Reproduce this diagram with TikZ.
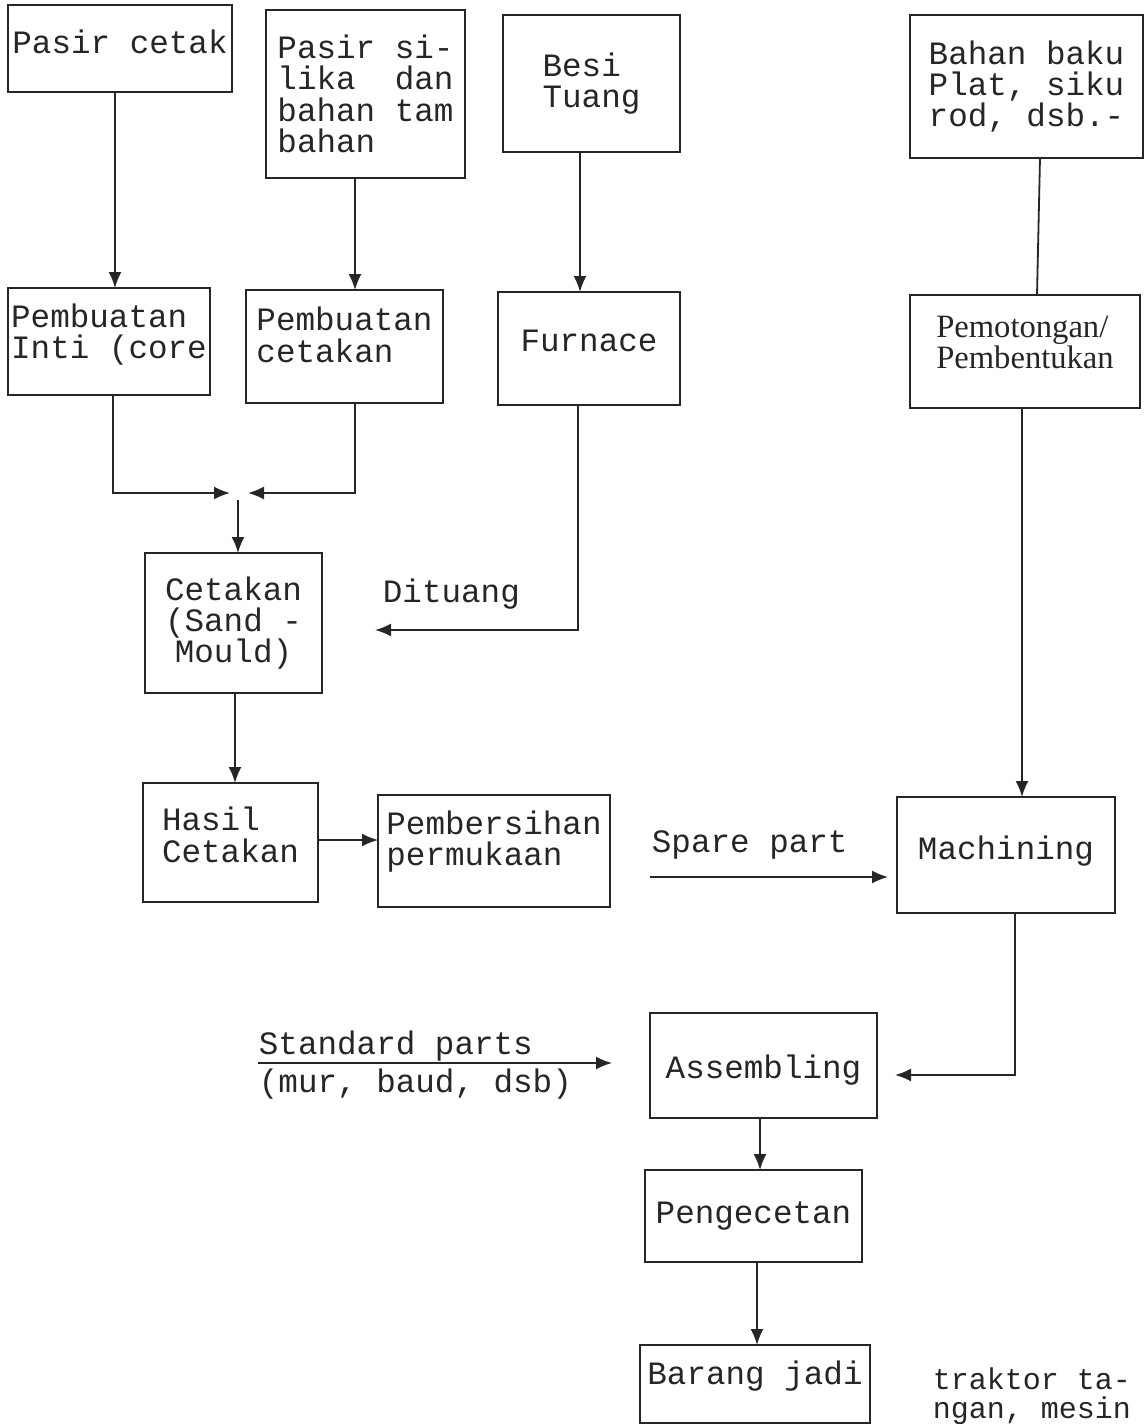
\documentclass[tikz,border=0pt]{standalone}
\usepackage{fontspec}
\setmainfont{Liberation Mono}
\newfontfamily\propfont{Liberation Serif}
\usetikzlibrary{
  arrows.meta,
  positioning,
}
\tikzset{
  >={Latex[length=8pt,width=6.5pt]},
  box/.style={draw, rectangle, align=left, inner sep=1pt, outer sep=0pt},
  lbl/.style={inner sep=0pt, align=left},
}

\begin{document}
\begin{tikzpicture}[node distance=5mm and 0mm, line width=0.9pt, color=black!85,
    font=\fontsize{16.3pt}{15.7pt}\selectfont]
        \useasboundingbox (0,0) rectangle (572.5pt,-712pt);

        \node[box, minimum width=112pt, minimum height=43.5pt, text depth=7pt]    (pasir) at (60pt,-24.25pt)    {Pasir cetak};
        \node[box, minimum width=99.5pt, minimum height=84pt, yshift=-22.75pt]    (silika) [right=17pt of pasir]    {Pasir si-\\lika\ \ dan\\bahan tam\\bahan};
        \node[box, minimum width=88.5pt, minimum height=68.5pt, yshift=5.25pt]    (besi) [right=19pt of silika]    {Besi\\Tuang};
        \node[box, minimum width=116.5pt, minimum height=71.5pt, yshift=-1.5pt]    (baku) [right=115pt of besi]    {Bahan baku\\Plat, siku\\rod, dsb.-};
        \node[box, minimum width=101pt, minimum height=53.5pt, xshift=-5.5pt, text depth=10.5pt]    (inti) [below=98pt of pasir]    {Pembuatan\\Inti (core};
        \node[box, minimum width=98.5pt, minimum height=56.5pt, xshift=-10.5pt, text depth=12pt]    (cetak) [below=56pt of silika]    {Pembuatan\\cetakan};
        \node[box, minimum width=91pt, minimum height=56.5pt, xshift=-1.25pt, text depth=8pt]    (furnace) [below=70pt of besi]    {Furnace};
        \node[box, minimum width=115pt, minimum height=56.5pt, xshift=-0.75pt, text depth=9pt, font=\fontsize{16.3pt}{15.7pt}\propfont]    (potong) [below=68.5pt of baku]    {Pemotongan/\\Pembentukan};
        \node[box, align=center, minimum width=88.5pt, minimum height=70pt, xshift=62.25pt]    (mould) [below=79pt of inti]    {Cetakan\\(Sand -\\Mould)};
        \node[box, minimum width=87.5pt, minimum height=59.5pt, xshift=-1.5pt, text depth=8pt]    (hasil) [below=45pt of mould]    {Hasil\\Cetakan};
        \node[box, minimum width=116pt, minimum height=56pt, yshift=-4.25pt, text depth=13pt]    (bersih) [right=30pt of hasil]    {Pembersihan\\permukaan};
        \node[box, minimum width=109pt, minimum height=58pt, xshift=-9.5pt, text depth=7pt]    (machining) [below=194.5pt of potong]    {Machining};
        \node[box, minimum width=113.5pt, minimum height=52.5pt, xshift=-121.25pt, text height=16.5pt]    (assembling) [below=50pt of machining]    {Assembling};
        \node[box, minimum width=108.5pt, minimum height=46pt, xshift=-5pt]    (cat) [below=26pt of assembling]    {Pengecetan};
        \node[box, minimum width=115pt, minimum height=39pt, xshift=0.75pt, text depth=11pt]    (jadi) [below=41.5pt of cat]    {Barang jadi};

        \draw[->] ([xshift=-2.5pt]pasir.south) -- ([xshift=3pt]inti.north);
        \draw[->] ([xshift=-5.25pt]silika.south) -- ([xshift=5.25pt]cetak.north);
        \draw[->] ([xshift=-5.75pt]besi.south) -- ([xshift=-4.5pt]furnace.north);
        \draw ([xshift=6.75pt]baku.south) -- ([xshift=6pt]potong.north);

        \coordinate (gabung) at ([xshift=2.25pt, yshift=30pt]mould.north);
        \draw[->] ([xshift=2pt]inti.south) |- ([xshift=-4pt]gabung);
        \draw[->] ([xshift=5.25pt]cetak.south) |- ([xshift=5pt]gabung);
        \draw[->] ([yshift=-3.5pt]gabung) -- (gabung |- mould.north);

        \coordinate (tuang) at ([xshift=26.5pt, yshift=-3.5pt]mould.east);
        \draw[->] ([xshift=-5.5pt]furnace.south) |- (tuang);
        \node[lbl, above right=10pt and 3.5pt of tuang]    (dituang)    {Dituang};

        \draw[->] ([xshift=0.75pt]mould.south) -- ([xshift=2.25pt]hasil.north);
        \draw[->] ([yshift=1.25pt]hasil.east) -- ([yshift=5.5pt]bersih.west);

        \coordinate (spare1) at ([xshift=20pt, yshift=-13pt]bersih.east);
        \coordinate (spare2) at ([xshift=-4.5pt, yshift=-11pt]machining.west);
        \draw[->] (spare1) -- (spare2);
        \node[lbl, above right=8.5pt and 0.5pt of spare1]    (sparepart)    {Spare part};

        \draw[->] ([xshift=-1.5pt]potong.south) -- ([xshift=8pt]machining.north);
        \draw[->] ([xshift=4.5pt]machining.south) |- ([xshift=9pt, yshift=-4.75pt]assembling.east);

        \coordinate (std2) at ([xshift=-19pt, yshift=1.25pt]assembling.west);
        \coordinate (std1) at ([xshift=-177pt]std2);
        \draw[->] (std1) -- (std2);
        \node[lbl, above right=0.5pt and 0pt of std1]    (standard)    {Standard parts};
        \node[lbl, below right=2.5pt and 0pt of std1]    (mur)    {(mur, baud, dsb)};

        \draw[->] ([xshift=-1.75pt]assembling.south) -- ([xshift=3.25pt]cat.north);
        \draw[->] ([xshift=1.75pt]cat.south) -- ([xshift=1pt]jadi.north);
        \node[lbl, below right=11pt and 31pt of jadi.north east, font=\fontsize{15pt}{14.5pt}\selectfont]    (traktor)    {traktor ta-\\ngan, mesin};

    \end{tikzpicture}
\end{document}
